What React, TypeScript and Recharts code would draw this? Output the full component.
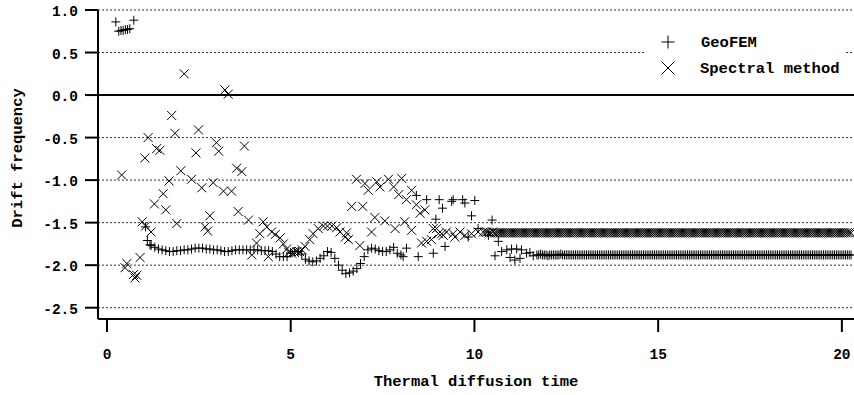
import { ScatterChart, Scatter, XAxis, YAxis, CartesianGrid, ReferenceLine, Legend } from "recharts";

const FONT = "'Liberation Mono', 'Courier New', Courier, 'Nimbus Mono PS', 'Nimbus Mono L', FreeMono, monospace";

// GeoFEM: [thermal diffusion time, drift frequency]
const geofemPoints: [number, number][] = [
  [0.24, 0.86], [0.32, 0.75], [0.38, 0.76], [0.44, 0.76], [0.5, 0.77], [0.56, 0.77], [0.62, 0.78], [0.73, 0.88],
  [1.05, -1.55], [1.1, -1.71], [1.17, -1.76],
  [1.2, -1.77], [1.3, -1.79], [1.4, -1.81], [1.5, -1.82], [1.6, -1.83], [1.7, -1.84], [1.8, -1.84], [1.9, -1.83], [2.0, -1.83], [2.1, -1.82],
  [2.2, -1.82], [2.3, -1.81], [2.4, -1.8], [2.5, -1.8], [2.6, -1.8], [2.7, -1.81], [2.8, -1.81], [2.9, -1.82], [3.0, -1.82], [3.1, -1.83],
  [3.2, -1.84], [3.3, -1.84], [3.4, -1.83], [3.5, -1.82], [3.6, -1.82], [3.7, -1.82], [3.8, -1.82], [3.9, -1.82], [4.0, -1.82], [4.1, -1.82],
  [4.2, -1.83], [4.3, -1.83], [4.4, -1.83], [4.5, -1.84], [4.6, -1.87], [4.7, -1.9], [4.8, -1.9], [4.9, -1.9], [5.0, -1.86], [5.1, -1.84],
  [5.2, -1.84], [5.3, -1.87], [5.4, -1.93], [5.5, -1.95], [5.6, -1.96], [5.7, -1.95], [5.8, -1.92], [5.9, -1.89], [6.0, -1.84], [6.1, -1.85],
  [6.2, -1.92], [6.3, -2.0], [6.4, -2.06], [6.5, -2.1], [6.6, -2.09], [6.7, -2.07], [6.8, -2.04], [6.9, -1.98], [7.0, -1.9], [7.1, -1.82],
  [7.2, -1.8], [7.3, -1.81], [7.4, -1.83], [7.5, -1.84], [7.6, -1.84], [7.7, -1.82], [7.8, -1.79], [7.9, -1.86], [8.0, -1.88], [8.06, -1.9],
  [8.15, -1.8], [8.47, -1.9], [8.88, -1.86], [9.2, -1.78],
  [8.42, -1.18], [8.7, -1.23], [8.95, -1.46], [9.04, -1.23], [9.13, -1.33], [9.38, -1.25], [9.42, -1.23], [9.68, -1.23], [9.74, -1.27],
  [9.83, -1.67], [9.92, -1.42], [10.01, -1.24], [10.1, -1.57], [10.38, -1.65], [10.48, -1.47], [10.65, -1.72],
  [10.56, -1.89], [10.74, -1.84], [10.88, -1.82], [10.97, -1.91], [11.01, -1.81], [11.1, -1.94], [11.15, -1.81], [11.24, -1.92],
  [11.28, -1.82], [11.42, -1.86], [11.51, -1.85], [11.6, -1.89],
];

// GeoFEM settled part, sampled every 0.05 from t = 11.7
const geofemTailStart = 11.7;
const geofemTailStep = 0.05;
const geofemTail = [
  -1.88, -1.88, -1.87, -1.88, -1.88, -1.88, -1.89, -1.88, -1.88, -1.88,
  -1.88, -1.88, -1.88, -1.87, -1.88, -1.88, -1.88, -1.88, -1.88, -1.88,
  -1.88, -1.88, -1.88, -1.88, -1.88, -1.88, -1.88, -1.88, -1.88, -1.88,
  -1.88, -1.88, -1.88, -1.88, -1.88, -1.88, -1.88, -1.88, -1.88, -1.88,
  -1.88, -1.88, -1.88, -1.88, -1.88, -1.88, -1.88, -1.88, -1.88, -1.88,
  -1.88, -1.88, -1.88, -1.88, -1.88, -1.88, -1.88, -1.88, -1.88, -1.88,
  -1.88, -1.88, -1.88, -1.88, -1.88, -1.88, -1.88, -1.88, -1.88, -1.88,
  -1.88, -1.88, -1.88, -1.88, -1.88, -1.88, -1.88, -1.88, -1.88, -1.88,
  -1.88, -1.88, -1.88, -1.88, -1.88, -1.88, -1.88, -1.88, -1.88, -1.88,
  -1.88, -1.88, -1.88, -1.88, -1.88, -1.88, -1.88, -1.88, -1.88, -1.88,
  -1.88, -1.88, -1.88, -1.88, -1.88, -1.88, -1.88, -1.88, -1.88, -1.88,
  -1.88, -1.88, -1.88, -1.88, -1.88, -1.88, -1.88, -1.88, -1.88, -1.88,
  -1.88, -1.88, -1.88, -1.88, -1.88, -1.88, -1.88, -1.88, -1.88, -1.88,
  -1.88, -1.88, -1.88, -1.88, -1.88, -1.88, -1.88, -1.88, -1.88, -1.88,
  -1.88, -1.88, -1.88, -1.88, -1.88, -1.88, -1.88, -1.88, -1.88, -1.88,
  -1.88, -1.88, -1.88, -1.88, -1.88, -1.88, -1.88, -1.88, -1.88, -1.88,
  -1.88, -1.88, -1.88, -1.88, -1.88, -1.88, -1.88, -1.88, -1.88, -1.88,
  -1.88, -1.88,
];

// Spectral method: [thermal diffusion time, drift frequency]
const spectralPoints: [number, number][] = [
  [0.4, -0.94], [0.49, -2.03], [0.54, -1.98], [0.72, -2.11], [0.76, -2.15], [0.81, -2.12], [0.9, -1.91], [0.96, -1.49], [1.03, -0.74], [1.05, -1.54],
  [1.12, -0.5], [1.2, -1.61], [1.29, -1.28], [1.35, -0.63], [1.44, -0.65], [1.53, -1.16], [1.6, -1.35], [1.69, -1.01], [1.76, -0.24], [1.85, -0.45],
  [1.9, -1.51], [2.01, -0.89], [2.1, 0.25], [2.3, -0.99], [2.42, -0.68], [2.49, -0.41], [2.58, -1.09], [2.67, -1.55], [2.74, -1.6], [2.8, -1.42],
  [2.89, -1.03], [2.98, -0.56], [3.04, -0.66], [3.17, -1.13], [3.21, 0.06], [3.3, 0.01], [3.39, -1.13], [3.53, -0.86], [3.57, -1.37], [3.67, -0.9],
  [3.74, -0.6], [3.85, -1.47], [3.94, -1.88], [4.07, -1.74], [4.16, -1.63], [4.25, -1.49], [4.35, -1.55], [4.39, -1.9], [4.48, -1.61], [4.58, -1.64],
  [4.71, -1.68], [4.8, -1.75], [4.89, -1.81], [4.95, -1.85], [5.03, -1.86], [5.1, -1.85], [5.17, -1.84], [5.24, -1.84], [5.31, -1.82], [5.39, -1.78],
  [5.52, -1.7], [5.61, -1.63], [5.75, -1.57], [5.89, -1.54], [6.0, -1.54], [6.12, -1.54], [6.25, -1.56], [6.34, -1.61], [6.48, -1.67], [6.52, -1.62],
  [6.57, -1.7], [6.66, -1.31], [6.79, -0.99], [6.88, -1.77], [6.96, -1.31], [7.02, -1.04], [7.11, -1.12], [7.2, -1.61], [7.29, -1.44], [7.34, -1.02],
  [7.43, -1.08], [7.56, -1.48], [7.66, -0.99], [7.8, -1.08], [7.84, -1.57], [7.94, -1.17], [8.02, -0.98], [8.1, -1.49], [8.15, -1.23], [8.29, -1.12],
  [8.29, -1.59], [8.42, -1.29], [8.52, -1.39], [8.56, -1.74], [8.65, -1.35], [8.7, -1.72], [8.83, -1.7], [8.88, -1.57], [8.97, -1.57], [9.02, -1.63],
  [9.11, -1.63], [9.15, -1.65], [9.24, -1.61], [9.42, -1.63], [9.47, -1.67], [9.61, -1.61], [9.74, -1.65], [9.92, -1.63], [10.1, -1.61], [10.24, -1.61],
];

// Spectral settled part, sampled every 0.05 from t = 10.3
const spectralTailStart = 10.3;
const spectralTailStep = 0.05;
const spectralTail = [
  -1.61, -1.61, -1.62, -1.62, -1.61, -1.62, -1.62, -1.62, -1.62, -1.62,
  -1.62, -1.62, -1.62, -1.62, -1.62, -1.62, -1.62, -1.62, -1.62, -1.62,
  -1.62, -1.62, -1.62, -1.62, -1.62, -1.62, -1.62, -1.62, -1.62, -1.62,
  -1.62, -1.62, -1.62, -1.62, -1.62, -1.62, -1.62, -1.62, -1.62, -1.62,
  -1.62, -1.62, -1.62, -1.62, -1.62, -1.62, -1.62, -1.62, -1.62, -1.62,
  -1.62, -1.62, -1.62, -1.62, -1.62, -1.62, -1.62, -1.62, -1.62, -1.62,
  -1.62, -1.62, -1.62, -1.62, -1.62, -1.62, -1.62, -1.62, -1.62, -1.62,
  -1.62, -1.62, -1.62, -1.62, -1.62, -1.62, -1.62, -1.62, -1.62, -1.62,
  -1.62, -1.62, -1.62, -1.62, -1.62, -1.62, -1.62, -1.62, -1.62, -1.62,
  -1.62, -1.62, -1.62, -1.62, -1.62, -1.62, -1.62, -1.62, -1.62, -1.62,
  -1.62, -1.62, -1.62, -1.62, -1.62, -1.62, -1.62, -1.62, -1.62, -1.62,
  -1.62, -1.62, -1.62, -1.62, -1.62, -1.62, -1.62, -1.62, -1.62, -1.62,
  -1.62, -1.62, -1.62, -1.62, -1.62, -1.62, -1.62, -1.62, -1.62, -1.62,
  -1.62, -1.62, -1.62, -1.62, -1.62, -1.62, -1.62, -1.62, -1.62, -1.62,
  -1.62, -1.62, -1.62, -1.62, -1.62, -1.62, -1.62, -1.62, -1.62, -1.62,
  -1.62, -1.62, -1.62, -1.62, -1.62, -1.62, -1.62, -1.62, -1.62, -1.62,
  -1.62, -1.62, -1.62, -1.62, -1.62, -1.62, -1.62, -1.62, -1.62, -1.62,
  -1.62, -1.62, -1.62, -1.62, -1.62, -1.62, -1.62, -1.62, -1.62, -1.62,
  -1.62, -1.62, -1.62, -1.62, -1.62, -1.62, -1.62, -1.62, -1.62, -1.62,
  -1.62, -1.62, -1.62, -1.62, -1.62, -1.62, -1.62, -1.62, -1.62, -1.62,
];

const xTicks = [0, 5, 10, 15, 20];
const yTicks = [-2.5, -2, -1.5, -1, -0.5, 0, 0.5, 1];

const geofemData = [
  ...geofemPoints.map(([x, y]) => ({ x, y })),
  ...geofemTail.map((y, i) => ({ x: geofemTailStart + i * geofemTailStep, y })),
];
const spectralData = [
  ...spectralPoints.map(([x, y]) => ({ x, y })),
  ...spectralTail.map((y, i) => ({ x: spectralTailStart + i * spectralTailStep, y })),
];

function PlusMark({ cx, cy, r = 4.5 }: any) {
  return (
    <path
      d={`M${cx - r},${cy}H${cx + r}M${cx},${cy - r}V${cy + r}`}
      stroke="#000"
      strokeWidth={1}
      fill="none"
    />
  );
}

function CrossMark({ cx, cy, r = 4.5 }: any) {
  return (
    <path
      d={`M${cx - r},${cy - r}L${cx + r},${cy + r}M${cx - r},${cy + r}L${cx + r},${cy - r}`}
      stroke="#000"
      strokeWidth={1}
      fill="none"
    />
  );
}

const tickStyle = { fontFamily: FONT, fontWeight: "bold" as const, fontSize: 14.5, fill: "#000" };

function XTick({ x, y, payload }: any) {
  return (
    <text x={x} y={y + 25} textAnchor="middle" style={tickStyle}>
      {payload.value}
    </text>
  );
}

function YTick({ x, y, payload }: any) {
  return (
    <text x={x - 5} y={y + 6} textAnchor="end" style={tickStyle}>
      {Number(payload.value).toFixed(1)}
    </text>
  );
}

// axis titles placed at fixed spots; ignores the x/y recharts hands to labels
function AxisTitle({ tx, ty, rotate, text }: any) {
  return (
    <text
      transform={`translate(${tx},${ty})${rotate ? ` rotate(${rotate})` : ""}`}
      textAnchor="middle"
      style={{ ...tickStyle, fontSize: 15.5 }}
    >
      {text}
    </text>
  );
}

function LegendBox() {
  return (
    <svg width={198} height={52} style={{ display: "block", background: "#fff" }}>
      <PlusMark cx={22} cy={14} r={6.5} />
      <text x={55} y={19} style={{ ...tickStyle, fontSize: 15.5 }}>GeoFEM</text>
      <CrossMark cx={22} cy={40} r={6.5} />
      <text x={54} y={45} style={{ ...tickStyle, fontSize: 15.5 }}>Spectral method</text>
    </svg>
  );
}

export default function App() {
  return (
    <div style={{ width: 854, height: 395, position: "relative", background: "#fff" }}>
      <style>{`body{margin:0}`}</style>
      <ScatterChart width={854} height={395} margin={{ top: 10, right: 0, bottom: 0, left: 0 }}>
        <CartesianGrid vertical={false} stroke="#333" strokeDasharray="2 2" />
        <XAxis
          type="number"
          dataKey="x"
          domain={[-0.245, 20.33]}
          ticks={xTicks}
          interval={0}
          allowDataOverflow
          height={76}
          tickSize={13}
          axisLine={{ stroke: "#000", strokeWidth: 2 }}
          tickLine={{ stroke: "#000", strokeWidth: 2 }}
          tick={<XTick />}
          label={<AxisTitle tx={476} ty={386} text="Thermal diffusion time" />}
        />
        <YAxis
          type="number"
          dataKey="y"
          domain={[-2.633, 1.0]}
          ticks={yTicks}
          interval={0}
          allowDataOverflow
          width={98}
          tickSize={13}
          axisLine={{ stroke: "#000", strokeWidth: 2 }}
          tickLine={{ stroke: "#000", strokeWidth: 2 }}
          tick={<YTick />}
          label={<AxisTitle tx={22} ty={158} rotate={-90} text="Drift frequency" />}
        />
        <ReferenceLine y={0} stroke="#000" strokeWidth={2} />
        <Legend
          layout="horizontal"
          verticalAlign="middle"
          align="center"
          content={() => <LegendBox />}
          wrapperStyle={{ left: 646, top: 28, width: 198, height: 52 }}
        />
        <Scatter
          name="GeoFEM"
          data={geofemData}
          isAnimationActive={false}
          shape={(p: any) => <PlusMark cx={p.cx} cy={p.cy} />}
        />
        <Scatter
          name="Spectral method"
          data={spectralData}
          isAnimationActive={false}
          shape={(p: any) => <CrossMark cx={p.cx} cy={p.cy} />}
        />
      </ScatterChart>
    </div>
  );
}
